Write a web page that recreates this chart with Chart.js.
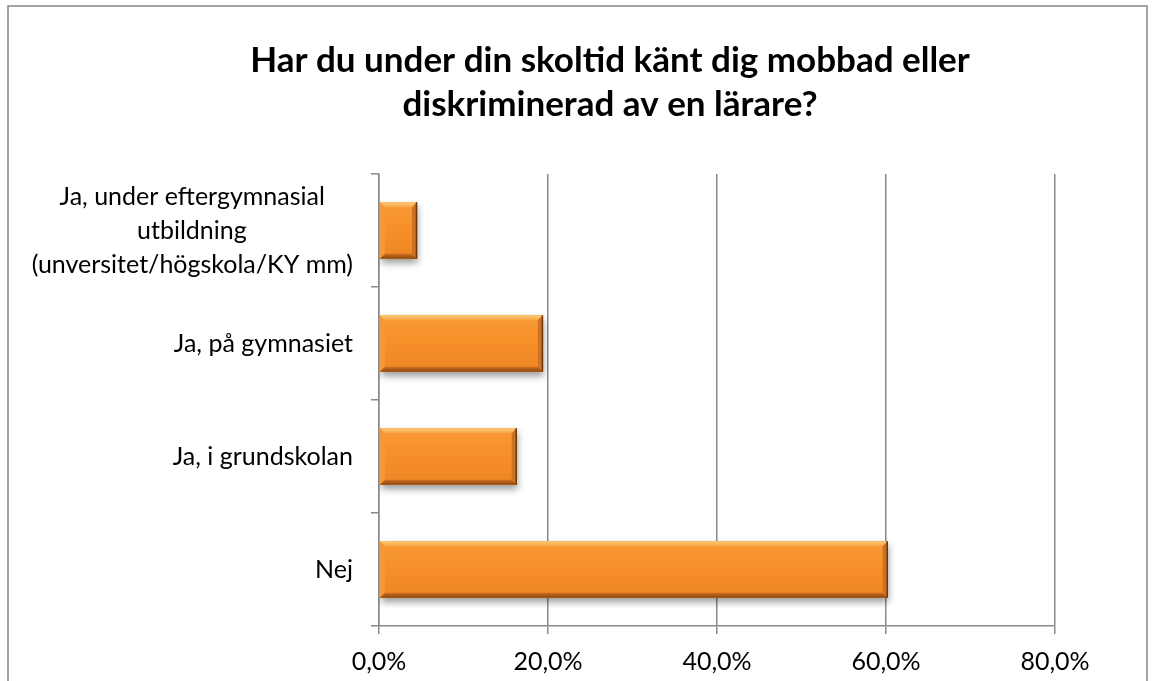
<!DOCTYPE html>
<html>
<head>
<meta charset="utf-8">
<script src="https://cdn.jsdelivr.net/npm/chart.js@4.4.1/dist/chart.umd.min.js"></script>
<style>
  html, body { margin: 0; padding: 0; background: #fff; }
  #wrap { width: 1154px; height: 681px; position: relative; }
</style>
</head>
<body>
<div id="wrap"><canvas id="c" width="1154" height="681"></canvas></div>
<script>
// ---- data ----
const titleLines = ["Har du under din skoltid känt dig mobbad eller", "diskriminerad av en lärare?"];
const categories = [
  ["Ja, under eftergymnasial", "utbildning", "(unversitet/högskola/KY mm)"],
  "Ja, på gymnasiet",
  "Ja, i grundskolan",
  "Nej"
];
const values = [4.5, 19.4, 16.3, 60.2];
const axisMin = 0;
const axisMax = 80;
const axisStep = 20;

// ---- styling ----
const FONT = "Lato, 'Open Sans', sans-serif";
const LABEL_SIZE = 25;
const GRID = '#8a8a8a';

// center lines of multi-line labels relative to each other by padding with spaces
const mctx = document.createElement('canvas').getContext('2d');
mctx.font = LABEL_SIZE + 'px ' + FONT;
function centerLines(lines) {
  if (!Array.isArray(lines)) return lines;
  const ws = lines.map(s => mctx.measureText(s).width);
  const maxW = Math.max(...ws);
  const sp = '\u200A';
  const spW = mctx.measureText(sp).width || 1;
  return lines.map((s, i) => {
    const n = Math.round((maxW - ws[i]) / 2 / spW);
    return s + sp.repeat(n);
  });
}

const bgPlugin = {
  id: 'bg',
  afterLayout(chart) {
    // the title is centred over the region from x=165 to the plot's right edge
    if (chart.titleBlock) {
      chart.titleBlock.left = 165;
      chart.titleBlock.right = chart.chartArea.right;
    }
  },
  beforeDraw(chart) {
    const ctx = chart.ctx;
    ctx.save();
    ctx.fillStyle = '#fff';
    ctx.fillRect(0, 0, chart.width, chart.height);
    ctx.strokeStyle = '#878787';
    ctx.lineWidth = 1.5;
    ctx.strokeRect(8, 6, 1139, 720);
    ctx.restore();
  }
};

function poly(ctx, pts, fill) {
  ctx.beginPath();
  ctx.moveTo(pts[0][0], pts[0][1]);
  for (let i = 1; i < pts.length; i++) ctx.lineTo(pts[i][0], pts[i][1]);
  ctx.closePath();
  ctx.fillStyle = fill;
  ctx.fill();
}

const bevelPlugin = {
  id: 'bevel',
  beforeDatasetDraw(chart) {
    const ctx = chart.ctx;
    ctx.save();
    ctx.shadowColor = 'rgba(0,0,0,0.4)';
    ctx.shadowBlur = 7;
    ctx.shadowOffsetX = 1;
    ctx.shadowOffsetY = 4;
  },
  afterDatasetDraw(chart, args) {
    const ctx = chart.ctx;
    ctx.restore();
    const meta = args.meta;
    ctx.save();
    meta.data.forEach(el => {
      const p = el.getProps(['x', 'y', 'base', 'height'], true);
      const l = Math.min(p.base, p.x), r = Math.max(p.base, p.x);
      const t = p.y - p.height / 2, b = p.y + p.height / 2;
      const bv = Math.min(5, (r - l) / 2);
      let g = ctx.createLinearGradient(0, t, 0, b);
      g.addColorStop(0, '#F89A36');
      g.addColorStop(0.5, '#F68F28');
      g.addColorStop(1, '#EC8625');
      ctx.fillStyle = g;
      ctx.fillRect(l, t, r - l, b - t);
      // top bevel
      g = ctx.createLinearGradient(0, t, 0, t + bv);
      g.addColorStop(0, '#FCCB78');
      g.addColorStop(1, '#F9A444');
      poly(ctx, [[l, t], [r, t], [r - bv, t + bv], [l + bv, t + bv]], g);
      // bottom bevel
      g = ctx.createLinearGradient(0, b, 0, b - bv);
      g.addColorStop(0, '#8A470F');
      g.addColorStop(1, '#CE7022');
      poly(ctx, [[l, b], [r, b], [r - bv, b - bv], [l + bv, b - bv]], g);
      // left bevel
      poly(ctx, [[l, t], [l + bv, t + bv], [l + bv, b - bv], [l, b]], '#F5983C');
      // right bevel
      poly(ctx, [[r, t], [r - bv, t + bv], [r - bv, b - bv], [r, b]], '#CD7124');
      // dark right edge
      ctx.strokeStyle = '#6A370B';
      ctx.lineWidth = 1.5;
      ctx.beginPath();
      ctx.moveTo(r - 0.5, t);
      ctx.lineTo(r - 0.5, b);
      ctx.stroke();
    });
    ctx.restore();
  }
};

new Chart(document.getElementById('c'), {
  type: 'bar',
  data: {
    labels: categories,
    datasets: [{
      data: values,
      backgroundColor: '#F68F28',
      borderWidth: 0,
      barPercentage: 0.5,
      categoryPercentage: 1.0
    }]
  },
  plugins: [bgPlugin, bevelPlugin],
  options: {
    indexAxis: 'y',
    responsive: false,
    animation: false,
    devicePixelRatio: 1,
    layout: { padding: { left: 0, right: 99, top: 0, bottom: 0 } },
    plugins: {
      legend: { display: false },
      tooltip: { enabled: false },
      title: {
        display: true,
        text: titleLines,
        color: '#000',
        font: { family: FONT, size: 35, weight: 'bold', lineHeight: '44px' },
        padding: { top: 39, bottom: 47 }
      }
    },
    scales: {
      x: {
        min: axisMin,
        max: axisMax,
        afterFit(scale) { scale.height = 55; scale.paddingLeft = 0; scale.paddingRight = 0; },
        ticks: {
          stepSize: axisStep,
          color: '#000',
          padding: 13,
          font: { family: FONT, size: LABEL_SIZE },
          callback: v => v.toFixed(1).replace('.', ',') + '%'
        },
        grid: { color: GRID, lineWidth: 1.5, tickLength: 8, drawOnChartArea: true },
        border: { color: GRID, width: 1.5 }
      },
      y: {
        afterFit(scale) { scale.width = 379; scale.paddingTop = 0; scale.paddingBottom = 0; },
        ticks: {
          color: '#000',
          padding: 18,
          font: { family: FONT, size: LABEL_SIZE, lineHeight: 34 / LABEL_SIZE },
          callback: function(v, i) { return centerLines(categories[i]); }
        },
        grid: { color: GRID, lineWidth: 1.5, tickLength: 8, drawOnChartArea: false, offset: true },
        border: { color: GRID, width: 1.5 }
      }
    }
  }
});
</script>
</body>
</html>
